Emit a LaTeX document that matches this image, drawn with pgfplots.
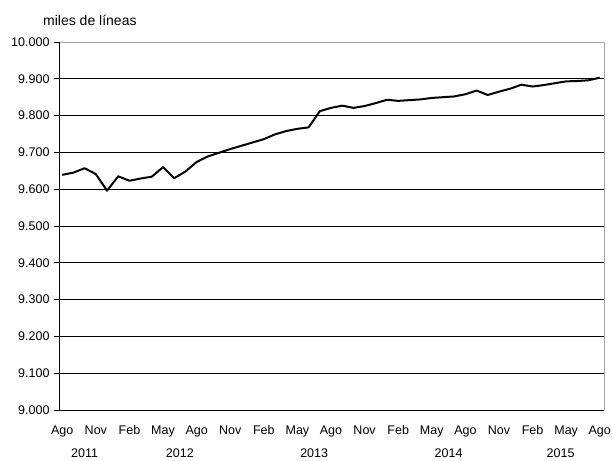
\documentclass[border=0pt]{standalone}
\usepackage{pgfplots}
\pgfplotsset{compat=1.18}
\usepackage{fontspec}
\setmainfont{Liberation Sans}

% lineas en servicio, miles (Ago 2011 - Ago 2015)
\pgfplotstableread{
m v
0 9639
1 9645
2 9657
3 9641
4 9596
5 9635
6 9623
7 9629
8 9634
9 9660
10 9630
11 9648
12 9674
13 9689
14 9699
15 9709
16 9718
17 9727
18 9736
19 9749
20 9758
21 9764
22 9768
23 9812
24 9821
25 9827
26 9821
27 9826
28 9834
29 9843
30 9840
31 9842
32 9844
33 9848
34 9850
35 9852
36 9858
37 9868
38 9856
39 9865
40 9873
41 9884
42 9879
43 9883
44 9888
45 9893
46 9894
47 9896
48 9903
}\lineas

\begin{document}
\begin{tikzpicture}[year/.style={anchor=base, font=\fontsize{12.5}{14}\selectfont, yshift=-47pt}]
\useasboundingbox (-59pt,-50pt) rectangle (553pt,410pt);
\begin{axis}[
    scale only axis,
    width=545pt, height=368pt,
    xmin=-0.29, xmax=48.38,
    ymin=9000, ymax=10000,
    clip=false,
    scaled y ticks=false,
    axis line style={draw=none},
    xtick={0,3,...,48},
    xticklabels={Ago,Nov,Feb,May,Ago,Nov,Feb,May,Ago,Nov,Feb,May,Ago,Nov,Feb,May,Ago},
    ytick={9000,9100,...,10000},
    yticklabels={9.000,9.100,9.200,9.300,9.400,9.500,9.600,9.700,9.800,9.900,10.000},
    ymajorgrids=true,
    grid style={black, line width=0.8pt},
    tick style={black, line width=0.8pt},
    x tick style={draw=none},
    tick align=outside,
    ytick pos=left,
    xtick pos=bottom,
    major tick length=5pt,
    ticklabel style={font=\fontsize{12.5}{14}\selectfont},
    xticklabel style={anchor=base, yshift=-19pt},
    yticklabel style={xshift=-1pt},
]
\draw[gray!70, line width=0.8pt] (rel axis cs:0,1) -- (rel axis cs:1,1) -- (rel axis cs:1,0);
\draw[black, line width=0.9pt] (rel axis cs:0,1) -- (rel axis cs:0,0) -- (rel axis cs:1,0);
\addplot[black, line width=2pt, line join=round] table[x=m, y=v] {\lineas};
\node[year] at (axis cs:2,9000) {2011};
\node[year] at (axis cs:10.5,9000) {2012};
\node[year] at (axis cs:22.5,9000) {2013};
\node[year] at (axis cs:34.5,9000) {2014};
\node[year] at (axis cs:44.5,9000) {2015};
\node[anchor=base west, font=\fontsize{14}{16}\selectfont, inner sep=0pt] at (rel axis cs:0,1) [xshift=-16pt, yshift=16pt] {miles de líneas};
\end{axis}
\end{tikzpicture}
\end{document}
